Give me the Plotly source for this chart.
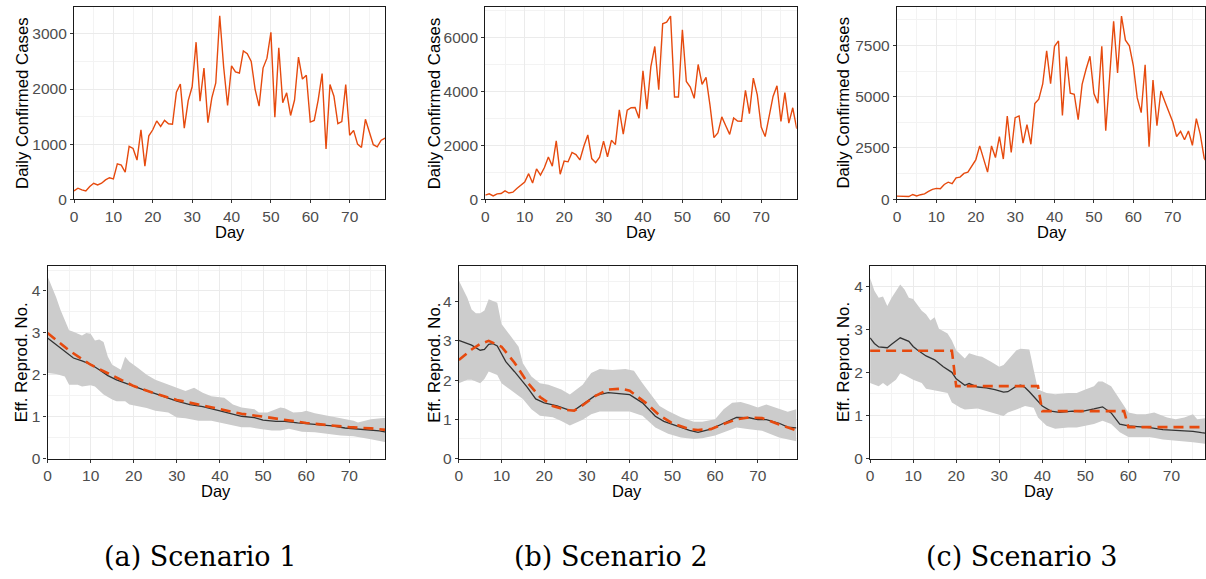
import plotly.graph_objects as go

W, H = 1206, 579

# ---------------- data ----------------
days = list(range(80))

cases_s1 = [150, 200, 170, 150, 230, 290, 260, 290, 350, 390, 370, 640, 620, 490, 960, 920, 710, 1260, 600, 1150,
            1260, 1420, 1320, 1430, 1370, 1360, 1940, 2090, 1290, 1790, 2040, 2850, 1780, 2380, 1390, 1840, 2110, 3330, 2400, 1700,
            2420, 2310, 2290, 2690, 2640, 2500, 1990, 1690, 2380, 2560, 3030, 1490, 2750, 1750, 1930, 1520, 1800, 2580, 2180, 2250,
            1400, 1430, 1800, 2280, 910, 2080, 1870, 1370, 1410, 2080, 1160, 1250, 1000, 940, 1450, 1200, 990, 950, 1070, 1110]

cases_s2 = [150, 200, 120, 200, 210, 310, 230, 260, 400, 510, 640, 950, 600, 1130, 900, 1180, 1570, 1230, 2170, 930,
            1420, 1390, 1740, 1660, 1460, 1970, 2390, 1510, 1360, 1560, 2160, 1580, 2190, 2030, 3320, 2420, 3310, 3400, 3410, 3010,
            4770, 3350, 4930, 5680, 4070, 6520, 6580, 6810, 3800, 3800, 6300, 4380, 4170, 3750, 5010, 4270, 4530, 3500, 2290, 2460,
            3060, 2730, 2410, 3020, 2910, 2900, 4050, 3180, 4500, 3880, 2680, 2330, 3060, 3820, 4220, 2890, 3960, 2830, 3400, 2620]

cases_s3 = [150, 150, 150, 130, 230, 160, 220, 260, 380, 480, 530, 510, 720, 830, 760, 1040, 1080, 1260, 1320, 1600,
            1920, 2600, 1960, 1320, 2600, 2030, 3050, 1960, 4060, 2280, 3980, 4060, 2740, 3640, 2680, 4670, 4880, 5620, 7240, 5640,
            7460, 7720, 4080, 6960, 5170, 5120, 3880, 5600, 6340, 6970, 5150, 4680, 7460, 3340, 6000, 8680, 6160, 8930, 7760, 7480,
            6520, 4940, 4220, 6560, 2560, 5810, 3590, 5280, 4770, 4260, 3780, 3060, 3310, 2900, 3330, 2630, 3930, 3160, 2000, 1700]

# Scenario 1 reproduction number
s1_true_days = [0, 5, 10, 15, 20, 25, 30, 35, 40, 45, 50, 55, 60, 65, 70, 75, 79]
s1_true_vals = [3.0, 2.58, 2.24, 1.98, 1.73, 1.55, 1.40, 1.29, 1.18, 1.07, 1.0, 0.93, 0.85, 0.80, 0.75, 0.72, 0.68]
s1_est_days = [0, 2, 4, 6, 8, 10, 12, 14, 16, 18, 20, 22, 25, 28, 30, 33, 36, 40, 43, 45, 48, 50, 53, 55, 58, 60, 63, 66, 69, 72, 75, 77, 79]
s1_est_vals = [2.88, 2.72, 2.55, 2.40, 2.33, 2.25, 2.12, 1.98, 1.88, 1.80, 1.72, 1.65, 1.55, 1.45, 1.37, 1.29, 1.24, 1.14, 1.06, 1.01,
               0.98, 0.92, 0.89, 0.89, 0.85, 0.83, 0.81, 0.78, 0.73, 0.71, 0.69, 0.66, 0.62]
s1_up_days = [0, 2, 3, 5, 6, 8, 9, 10, 11, 12, 13, 14, 15, 17, 18, 19, 21, 23, 25, 28, 30, 32, 34, 36, 38, 41, 43, 45, 48, 49,
              51, 52, 54, 55, 57, 59, 60, 62, 63, 65, 67, 68, 71, 72, 75, 79]
s1_up_vals = [4.35, 3.85, 3.55, 3.06, 3.03, 2.94, 3.0, 2.98, 2.82, 2.84, 2.78, 2.43, 2.24, 2.12, 2.43, 2.31, 2.16, 2.0, 1.88, 1.76,
              1.69, 1.61, 1.69, 1.57, 1.49, 1.45, 1.29, 1.22, 1.18, 1.1, 1.1, 1.14, 1.22, 1.2, 1.1, 1.11, 1.14, 1.08, 1.06, 1.02,
              0.98, 0.96, 0.9, 0.86, 0.94, 0.98]
s1_lo_days = [0, 2, 4, 5, 7, 8, 10, 11, 13, 15, 16, 18, 19, 21, 23, 25, 28, 30, 32, 35, 38, 40, 42, 45, 47, 49, 52, 54, 56, 59,
              62, 64, 66, 68, 71, 73, 75, 79]
s1_lo_vals = [2.04, 2.02, 1.96, 1.76, 1.76, 1.72, 1.75, 1.72, 1.53, 1.41, 1.37, 1.37, 1.29, 1.25, 1.21, 1.14, 1.1, 0.98, 0.96, 0.9,
              0.9, 0.86, 0.82, 0.75, 0.75, 0.71, 0.67, 0.67, 0.71, 0.64, 0.63, 0.61, 0.58, 0.55, 0.53, 0.49, 0.46, 0.38]

# Scenario 2 reproduction number
s2_true_days = [0, 3, 5, 7, 10, 13, 16, 19, 22, 25, 27, 29, 32, 35, 38, 40, 44, 47, 50, 54, 56, 59, 62, 65, 68, 71, 75, 79]
s2_true_vals = [2.51, 2.78, 2.92, 3.0, 2.85, 2.45, 1.95, 1.57, 1.34, 1.24, 1.22, 1.36, 1.6, 1.76, 1.78, 1.73, 1.4, 1.1, 0.9, 0.75,
                0.73, 0.75, 0.88, 1.0, 1.05, 1.03, 0.87, 0.72]
s2_est_days = [0, 2, 3, 5, 6, 7, 8, 9, 10, 11, 13, 16, 18, 20, 23, 26, 27, 29, 32, 35, 38, 40, 43, 46, 48, 51, 54, 56, 59, 62,
               65, 68, 70, 72, 75, 77, 79]
s2_est_vals = [3.01, 2.93, 2.89, 2.76, 2.78, 2.91, 2.93, 2.87, 2.68, 2.47, 2.22, 1.82, 1.52, 1.42, 1.34, 1.23, 1.23, 1.38, 1.61, 1.68,
               1.66, 1.63, 1.42, 1.08, 0.95, 0.84, 0.72, 0.67, 0.75, 0.9, 1.05, 1.04, 0.99, 0.99, 0.9, 0.8, 0.78]
s2_up_days = [0, 2, 3, 4, 5, 6, 7, 9, 10, 12, 14, 15, 17, 19, 21, 24, 26, 29, 31, 33, 36, 39, 41, 43, 47, 49, 52, 55, 57, 60,
              62, 64, 66, 68, 70, 72, 75, 77, 79]
s2_up_vals = [4.54, 4.1, 3.8, 3.7, 3.7, 3.77, 4.06, 3.97, 3.43, 3.14, 2.85, 2.43, 2.09, 1.92, 1.88, 1.76, 1.63, 1.88, 2.18, 2.28,
              2.26, 2.28, 2.24, 1.92, 1.34, 1.21, 1.05, 0.94, 0.94, 1.0, 1.26, 1.42, 1.44, 1.38, 1.3, 1.38, 1.26, 1.19, 1.26]
s2_lo_days = [0, 2, 3, 5, 6, 7, 9, 10, 12, 15, 17, 19, 22, 24, 26, 29, 31, 33, 36, 40, 43, 46, 49, 52, 55, 57, 60, 63, 65, 68,
              71, 75, 79]
s2_lo_vals = [1.92, 2.01, 2.01, 1.92, 2.03, 2.22, 2.13, 1.92, 1.76, 1.52, 1.26, 1.09, 1.05, 0.96, 0.84, 0.99, 1.13, 1.2, 1.21, 1.2,
              1.09, 0.79, 0.63, 0.54, 0.5, 0.52, 0.59, 0.71, 0.79, 0.75, 0.71, 0.54, 0.44]

# Scenario 3 reproduction number
s3_true_days = [0, 19, 20, 39, 40, 59, 60, 79]
s3_true_vals = [2.5, 2.5, 1.68, 1.68, 1.1, 1.1, 0.73, 0.73]
s3_est_days = [0, 1, 2, 4, 5, 7, 9, 10, 11, 13, 15, 17, 19, 20, 22, 23, 25, 27, 29, 31, 32, 34, 35, 36, 37, 39, 40, 42, 44, 47,
               49, 52, 54, 56, 58, 60, 62, 65, 68, 70, 72, 75, 77, 79]
s3_est_vals = [2.8, 2.67, 2.59, 2.57, 2.65, 2.8, 2.72, 2.6, 2.52, 2.38, 2.29, 2.13, 2.0, 1.85, 1.7, 1.74, 1.66, 1.64, 1.6, 1.54,
               1.55, 1.68, 1.7, 1.65, 1.55, 1.33, 1.22, 1.1, 1.07, 1.1, 1.09, 1.15, 1.2, 1.06, 0.8, 0.76, 0.75, 0.72, 0.67, 0.66,
               0.65, 0.63, 0.6, 0.58]
s3_up_days = [0, 1, 2, 3, 4, 5, 7, 8, 9, 10, 12, 13, 14, 15, 16, 18, 19, 20, 22, 23, 25, 26, 28, 30, 31, 32, 34, 35, 37, 38,
              39, 41, 43, 46, 48, 50, 52, 53, 54, 56, 58, 60, 62, 64, 66, 69, 71, 73, 75, 76, 79]
s3_up_vals = [4.19, 3.89, 3.73, 3.76, 3.54, 3.73, 4.04, 3.92, 3.73, 3.7, 3.43, 3.35, 3.2, 3.28, 3.01, 2.9, 2.74, 2.51, 2.32, 2.44,
              2.38, 2.36, 2.25, 2.13, 2.17, 2.29, 2.51, 2.55, 2.53, 2.06, 1.6, 1.52, 1.49, 1.52, 1.52, 1.6, 1.68, 1.79, 1.79, 1.68,
              1.37, 1.07, 1.03, 1.03, 1.07, 0.95, 0.91, 0.95, 1.03, 0.91, 0.95]
s3_lo_days = [0, 2, 3, 4, 6, 7, 8, 10, 12, 13, 15, 16, 18, 19, 21, 22, 25, 27, 29, 31, 32, 34, 36, 38, 39, 41, 43, 46, 48, 50,
              52, 54, 56, 58, 60, 62, 65, 68, 71, 75, 79]
s3_lo_vals = [1.75, 1.68, 1.75, 1.68, 1.83, 1.98, 1.94, 1.83, 1.75, 1.62, 1.58, 1.56, 1.52, 1.3, 1.18, 1.14, 1.16, 1.1, 1.05, 0.99,
              1.07, 1.14, 1.22, 1.18, 0.95, 0.76, 0.69, 0.72, 0.72, 0.76, 0.8, 0.88, 0.8, 0.61, 0.5, 0.5, 0.5, 0.44, 0.42, 0.38, 0.33]

captions = ["(a) Scenario 1", "(b) Scenario 2", "(c) Scenario 3"]
case_title = "Daily Confirmed Cases"
r_title = "Eff. Reprod. No."
x_title = "Day"

# ---------------- styling ----------------
ORANGE = "#E64A0E"
BAND = "#CCCCCC"
EST = "#333333"
GRID = "#EBEBEB"
MINOR = "#F3F3F3"
TICKC = "#4D4D4D"
SANS = "Liberation Sans, Arial, Helvetica, sans-serif"


def px_x(p):
    return p / W


def px_y(p):
    return 1 - p / H


# plot areas in pixels (left, right, top, bottom)
areas = [
    (70.3, 382.7, 7, 202), (483.3, 796, 7, 202), (896.7, 1206, 7, 202),
    (43.7, 382.7, 270, 465), (456.7, 796, 270, 465), (869.7, 1206, 270, 465),
]
x_ranges = [[0, 79], [0, 79], [0, 78.2], [0, 78.3], [0, 79.1], [0, 77.8]]
y_ranges = [[0, 3490], [0, 7150], [0, 9380], [0, 4.59], [0, 4.9], [0, 4.46]]
y_dticks = [1000, 2000, 2500, 1, 1, 1]

fig = go.Figure()

cases = [cases_s1, cases_s2, cases_s3]
for i, c in enumerate(cases):
    ax = "" if i == 0 else str(i + 1)
    fig.add_trace(go.Scatter(x=days, y=c, mode="lines", line=dict(color=ORANGE, width=1.4),
                             xaxis="x" + ax, yaxis="y" + ax, showlegend=False, hoverinfo="skip"))

rsets = [
    (s1_up_days, s1_up_vals, s1_lo_days, s1_lo_vals, s1_est_days, s1_est_vals, s1_true_days, s1_true_vals),
    (s2_up_days, s2_up_vals, s2_lo_days, s2_lo_vals, s2_est_days, s2_est_vals, s2_true_days, s2_true_vals),
    (s3_up_days, s3_up_vals, s3_lo_days, s3_lo_vals, s3_est_days, s3_est_vals, s3_true_days, s3_true_vals),
]
for j, (ud, uv, ld, lv, ed, ev, td, tv) in enumerate(rsets):
    ax = str(j + 4)
    fig.add_trace(go.Scatter(x=list(ud) + list(ld)[::-1], y=list(uv) + list(lv)[::-1], mode="lines",
                             fill="toself", fillcolor=BAND, line=dict(width=0, color=BAND),
                             xaxis="x" + ax, yaxis="y" + ax, showlegend=False, hoverinfo="skip"))
    fig.add_trace(go.Scatter(x=ed, y=ev, mode="lines", line=dict(color=EST, width=1.3),
                             xaxis="x" + ax, yaxis="y" + ax, showlegend=False, hoverinfo="skip"))
    fig.add_trace(go.Scatter(x=td, y=tv, mode="lines", line=dict(color=ORANGE, width=2.6, dash="10px,6px"),
                             xaxis="x" + ax, yaxis="y" + ax, showlegend=False, hoverinfo="skip"))

layout = dict(
    width=W, height=H, margin=dict(l=0, r=0, t=0, b=0),
    paper_bgcolor="white", plot_bgcolor="white", showlegend=False,
)
for i, (l, r, t, b) in enumerate(areas):
    n = "" if i == 0 else str(i + 1)
    common = dict(showline=True, linecolor="#1A1A1A", linewidth=1.3, mirror=True,
                  ticks="outside", ticklen=3, tickcolor="#333333", tickwidth=1,
                  tickfont=dict(family=SANS, size=15.5, color=TICKC),
                  showgrid=True, gridcolor=GRID, gridwidth=1.1, zeroline=False, fixedrange=True)
    layout["xaxis" + n] = dict(domain=[px_x(l), min(px_x(r), 1.0)], range=x_ranges[i], anchor="y" + n,
                               dtick=10, tick0=0,
                               minor=dict(dtick=5, tick0=0, showgrid=True, gridcolor=MINOR, gridwidth=0.8, ticks=""),
                               **common)
    layout["yaxis" + n] = dict(domain=[px_y(b), px_y(t)], range=y_ranges[i], anchor="x" + n,
                               dtick=y_dticks[i], tick0=0,
                               minor=dict(dtick=y_dticks[i] / 2, tick0=0, showgrid=True, gridcolor=MINOR,
                                          gridwidth=0.8, ticks=""),
                               **common)

ann = []
ytitle_x = [18, 432, 843, 17, 432, 843]
for i, (l, r, t, b) in enumerate(areas):
    title = case_title if i < 3 else r_title
    ann.append(dict(text=title, x=px_x(ytitle_x[i]), y=px_y((t + b) / 2), xref="paper", yref="paper",
                    textangle=-90, showarrow=False, xanchor="center", yanchor="middle",
                    font=dict(family=SANS, size=16.8, color="black")))
    dayy = 235 if i < 3 else 498
    cx = [226.5, 640, 1052, 213, 626, 1039][i]
    ann.append(dict(text=x_title, x=px_x(cx), y=px_y(dayy), xref="paper", yref="paper",
                    showarrow=False, xanchor="center", yanchor="middle",
                    font=dict(family=SANS, size=16.5, color="black")))
cap_x = [197, 610, 1022]
for k, cap in enumerate(captions):
    ann.append(dict(text=cap, x=px_x(cap_x[k]), y=px_y(564), xref="paper", yref="paper",
                    showarrow=False, xanchor="center", yanchor="middle",
                    font=dict(family="DejaVu Serif, serif", size=27, color="black")))
layout["annotations"] = ann

fig.update_layout(**layout)
fig.write_html("out.html")
